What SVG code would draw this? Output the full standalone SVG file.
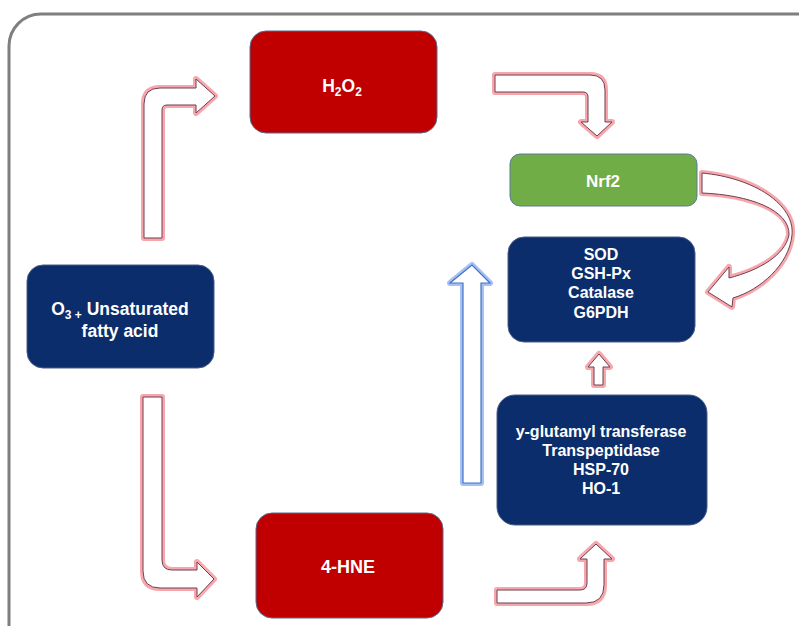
<svg xmlns="http://www.w3.org/2000/svg" width="799" height="626" viewBox="0 0 799 626">
<defs>
<style>
text{font-family:"Liberation Sans",Arial,sans-serif;font-weight:bold;fill:#fff;text-anchor:middle}
.navy{fill:#0c2d6b;stroke:#4a5d86;stroke-width:1}
.red{fill:#c00000;stroke:#5a6a8a;stroke-width:1}
.green{fill:#70ad47;stroke:#5a7a9a;stroke-width:1}
.glow{fill:none;stroke:#f4898f;stroke-width:6;stroke-linejoin:round;opacity:0.75}
.arr{fill:#fff;stroke:#6e3f52;stroke-width:1;stroke-linejoin:miter}
.bglow{fill:none;stroke:#8fb0f0;stroke-width:6;stroke-linejoin:round;opacity:0.8}
.barr{fill:#fff;stroke:#4472c4;stroke-width:1.2}
</style>
</defs>
<rect x="0" y="0" width="799" height="626" fill="#ffffff"/>
<rect x="9" y="14" width="830" height="660" rx="32" fill="#fff" stroke="#7f7f7f" stroke-width="3"/>
<g id="connectors">
<g id="a1"><path class="glow" d="M144,238 L144,104 Q144,88 160,88 L196,88 L196,79 L215,96 L196,113 L196,105 L167,105 Q162,105 162,110 L162,238 Z"/><path class="arr" d="M144,238 L144,104 Q144,88 160,88 L196,88 L196,79 L215,96 L196,113 L196,105 L167,105 Q162,105 162,110 L162,238 Z"/></g>
<g id="a2"><path class="glow" d="M495,75 L590,75 Q605,75 605,90 L605,122 L612,122 L597,136 L581,122 L588,122 L588,97 Q588,92 583,92 L495,92 Z"/><path class="arr" d="M495,75 L590,75 Q605,75 605,90 L605,122 L612,122 L597,136 L581,122 L588,122 L588,97 Q588,92 583,92 L495,92 Z"/></g>
<g id="a3"><path class="glow" d="M702,173 C755,178 795,205 792,235 C789,265 760,290 733,298 L732,307 L708,292 L729,267 L729,278 C760,270 785,255 789,235 C790,210 750,195 702,193 Z"/><path class="arr" d="M702,173 C755,178 795,205 792,235 C789,265 760,290 733,298 L732,307 L708,292 L729,267 L729,278 C760,270 785,255 789,235 C790,210 750,195 702,193 Z"/></g>
<g id="a4"><path class="bglow" d="M463,483 L463,283 L450,283 L472,265 L490,283 L481,283 L481,483 Z"/><path class="barr" d="M463,483 L463,283 L450,283 L472,265 L490,283 L481,283 L481,483 Z"/></g>
<g id="a5"><path class="glow" d="M143,397 L162,397 L162,560 Q162,570 172,570 L197,570 L197,562 L214,579 L197,597 L197,588 L160,588 Q143,588 143,571 Z"/><path class="arr" d="M143,397 L162,397 L162,560 Q162,570 172,570 L197,570 L197,562 L214,579 L197,597 L197,588 L160,588 Q143,588 143,571 Z"/></g>
<g id="a6"><path class="glow" d="M497,590 L580,590 Q587,590 587,583 L587,559 L580,559 L596,544 L612,559 L604,559 L604,585 Q604,603 586,603 L497,603 Z"/><path class="arr" d="M497,590 L580,590 Q587,590 587,583 L587,559 L580,559 L596,544 L612,559 L604,559 L604,585 Q604,603 586,603 L497,603 Z"/></g>
<g id="a7"><path class="glow" d="M594,385 L594,367 L588,367 L599,354 L610,367 L603,367 L603,385 Z"/><path class="arr" d="M594,385 L594,367 L588,367 L599,354 L610,367 L603,367 L603,385 Z"/></g>
</g>
<g id="h2o2"><rect class="red" x="250" y="31" width="187" height="102" rx="16"/><text x="342" y="92" font-size="17.5">H<tspan font-size="12" dy="4">2</tspan><tspan dy="-4">O</tspan><tspan font-size="12" dy="4">2</tspan></text></g>
<g id="o3"><rect class="navy" x="27" y="265" width="187" height="103" rx="16"/><text x="120" y="315" font-size="17.5">O<tspan font-size="12" dy="4">3 +</tspan><tspan dy="-4"> Unsaturated</tspan></text><text x="120" y="337" font-size="17.5">fatty acid</text></g>
<g id="hne"><rect class="red" x="256" y="513" width="187" height="105" rx="16"/><text x="348" y="573" font-size="18">4-HNE</text></g>
<g id="nrf2"><rect class="green" x="510" y="154" width="187" height="52" rx="10"/><text x="603" y="187" font-size="17">Nrf2</text></g>
<g id="sod"><rect class="navy" x="508" y="237" width="187" height="105" rx="16"/><text x="601" y="260" font-size="16">SOD</text><text x="601" y="279" font-size="16">GSH-Px</text><text x="601" y="298" font-size="16">Catalase</text><text x="601" y="318" font-size="16">G6PDH</text></g>
<g id="yglut"><rect class="navy" x="497" y="395" width="210" height="130" rx="18"/><text x="601" y="437" font-size="16">y-glutamyl transferase</text><text x="601" y="456" font-size="16">Transpeptidase</text><text x="601" y="475" font-size="16">HSP-70</text><text x="601" y="494" font-size="16">HO-1</text></g>
</svg>
